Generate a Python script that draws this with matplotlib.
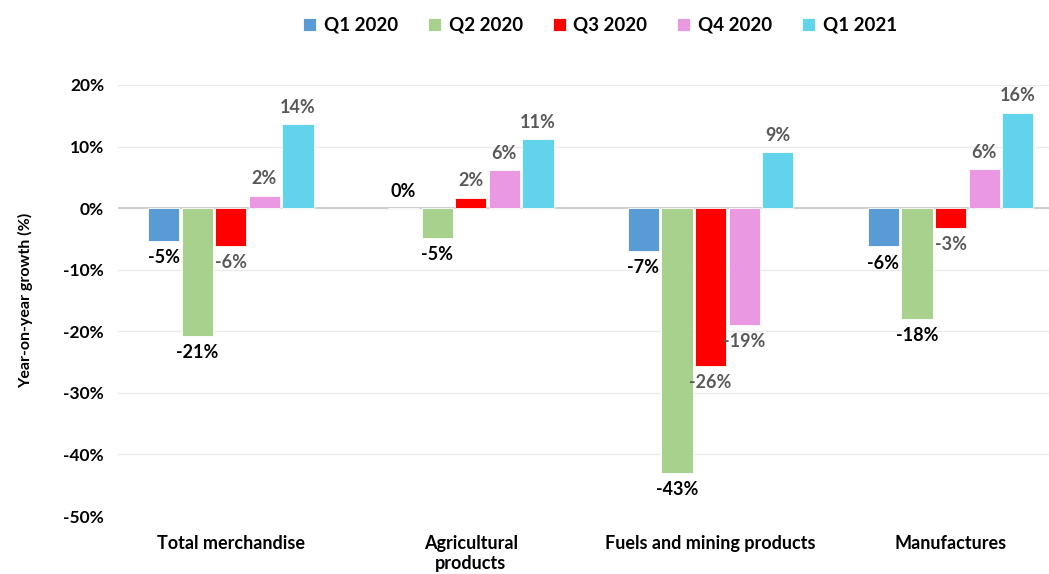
import numpy as np
import matplotlib.pyplot as plt
from matplotlib.ticker import FuncFormatter

categories = ["Total merchandise", "Agricultural\nproducts", "Fuels and mining products", "Manufactures"]
series_names = ["Q1 2020", "Q2 2020", "Q3 2020", "Q4 2020", "Q1 2021"]

q1_2020 = [-5.3, 0.0, -6.9, -6.2]
q2_2020 = [-20.7, -4.8, -43.0, -18.0]
q3_2020 = [-6.1, 1.7, -25.6, -3.2]
q4_2020 = [2.0, 6.2, -19.0, 6.3]
q1_2021 = [13.6, 11.2, 9.1, 15.5]

colors = ["#5B9BD5", "#A9D18E", "#FF0000", "#EB98E2", "#61D3EA"]
label_colors = ["#000000", "#000000", "#595959", "#595959", "#595959"]

plt.rcParams["font.family"] = ["Lato", "DejaVu Sans"]
plt.rcParams["font.weight"] = "bold"

fig = plt.figure(figsize=(10.49, 5.74), dpi=100)
ax = fig.add_axes([0.1125, 0.101, 0.8875, 0.751])

x = np.arange(len(categories))
step = 0.14
width = 0.13
all_series = [q1_2020, q2_2020, q3_2020, q4_2020, q1_2021]

for j, vals in enumerate(all_series):
    pos = x + (j - 2) * step
    ax.bar(pos, vals, width, color=colors[j], edgecolor="white", linewidth=0.6,
           label=series_names[j], zorder=3)
    for px, v in zip(pos, vals):
        off = 6 if v >= 0 else -6
        va = "bottom" if v >= 0 else "top"
        ax.annotate(f"{v:.0f}%", (px, v), xytext=(0, off), textcoords="offset points",
                    ha="center", va=va, fontsize=13, fontweight="bold",
                    color=label_colors[j], zorder=4)

ax.set_ylim(-50, 20)
ax.set_yticks(np.arange(-50, 21, 10))
ax.yaxis.set_major_formatter(FuncFormatter(lambda v, p: f"{v:.0f}%"))
ax.set_xlim(-0.47, 3.41)
ax.set_xticks(x)
ax.set_xticklabels(categories, fontsize=13, fontweight="bold")
ax.tick_params(axis="y", length=0, labelsize=12.5, pad=10)
ax.tick_params(axis="x", length=0, pad=14)
ax.grid(axis="y", color="#EBEBEB", linewidth=1, zorder=0)
ax.axhline(0, color="#D0D0D0", linewidth=1.5, zorder=2)
for s in ax.spines.values():
    s.set_visible(False)

ax.set_ylabel("Year-on-year growth (%)", fontsize=11.5, fontweight="bold", labelpad=22)

fig.legend(loc="upper center", bbox_to_anchor=(0.572, 1.0), ncol=5, frameon=False,
           handlelength=0.7, handleheight=0.7, handletextpad=0.4,
           columnspacing=1.6, prop={"weight": "bold", "size": 13.5})

fig.savefig("out.png", dpi=100)
